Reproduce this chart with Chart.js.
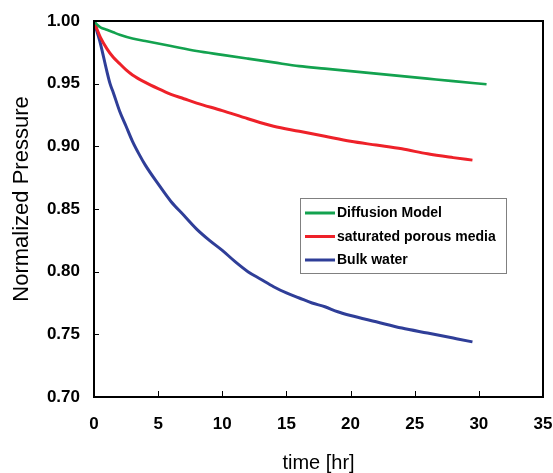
<!DOCTYPE html>
<html><head><meta charset="utf-8">
<script src="https://cdn.jsdelivr.net/npm/chart.js@4.4.0/dist/chart.umd.min.js"></script>
<style>html,body{margin:0;padding:0;background:#fff;} #wrap{width:553px;height:473px;}</style>
</head><body><div id="wrap"><canvas id="c" width="553" height="473"></canvas></div>
<script>
const seriesNames = ['Diffusion Model', 'saturated porous media', 'Bulk water'];
const seriesColors = ['#13a24f', '#ee2129', '#2f3e98'];

const diffusionTime   = [0, 0.25, 0.5, 1, 1.5, 2, 3, 4, 5, 6, 8, 10, 12, 14, 16, 18, 20, 22, 24, 26, 28, 30.6];
const diffusionValues = [1.000, 0.997, 0.995, 0.993, 0.991, 0.989, 0.986, 0.984, 0.982, 0.980, 0.976, 0.973, 0.970, 0.967, 0.964, 0.962, 0.960, 0.958, 0.956, 0.954, 0.952, 0.9495];

const porousTime   = [0, 0.25, 0.5, 1, 1.5, 2, 2.5, 3, 4, 5, 6, 7, 8, 10, 12, 14, 16, 18, 20, 22, 24, 26, 28, 29.5];
const porousValues = [1.000, 0.993, 0.987, 0.978, 0.971, 0.966, 0.961, 0.957, 0.951, 0.946, 0.9415, 0.938, 0.9345, 0.9285, 0.922, 0.916, 0.912, 0.908, 0.904, 0.901, 0.898, 0.894, 0.891, 0.889];

const bulkTime   = [0, 0.25, 0.5, 1, 1.25, 1.5, 2, 2.5, 3, 3.5, 4, 5, 6, 7, 8, 9, 10, 11, 12, 13, 14, 15, 16, 17, 18, 19, 20, 22, 24, 26, 28, 29.5];
const bulkValues = [1.000, 0.991, 0.982, 0.960, 0.950, 0.943, 0.928, 0.916, 0.904, 0.894, 0.885, 0.870, 0.856, 0.845, 0.834, 0.825, 0.817, 0.808, 0.800, 0.794, 0.788, 0.783, 0.779, 0.775, 0.772, 0.768, 0.765, 0.760, 0.755, 0.751, 0.747, 0.744];

const xTickValues = [0, 5, 10, 15, 20, 25, 30, 35];
const yTickValues = [0.70, 0.75, 0.80, 0.85, 0.90, 0.95, 1.00];

const xTitle = 'time [hr]';
const yTitle = 'Normalized Pressure';

function pairs(xs, ys) { return xs.map((x, i) => ({x: x, y: ys[i]})); }

const seriesData = [pairs(diffusionTime, diffusionValues), pairs(porousTime, porousValues), pairs(bulkTime, bulkValues)];

const framePlugin = {
  id: 'frame',
  afterDatasetsDraw(chart) {
    const ctx = chart.ctx, a = chart.chartArea;
    const xs = chart.scales.x, ys = chart.scales.y;
    const L = a.left, R = a.right, T = a.top, B = a.bottom;
    ctx.save();
    ctx.strokeStyle = '#000';
    ctx.lineWidth = 2;
    ctx.lineCap = 'square';
    ctx.beginPath();
    ctx.moveTo(L, T); ctx.lineTo(R, T);
    ctx.moveTo(R, T); ctx.lineTo(R, B);
    ctx.moveTo(L, B); ctx.lineTo(R, B);
    ctx.moveTo(L, T); ctx.lineTo(L, B);
    ctx.stroke();
    ctx.lineWidth = 1;
    ctx.lineCap = 'butt';
    ctx.beginPath();
    xTickValues.forEach(v => {
      const px = Math.round(xs.getPixelForValue(v)) + 0.5;
      ctx.moveTo(px, B); ctx.lineTo(px, B - 6);
    });
    yTickValues.forEach(v => {
      const py = Math.round(ys.getPixelForValue(v)) + 0.5;
      ctx.moveTo(L, py); ctx.lineTo(L + 5, py);
    });
    ctx.stroke();

    // y title
    ctx.fillStyle = '#000';
    ctx.font = '22px "Liberation Sans", Arial, sans-serif';
    ctx.textAlign = 'center';
    ctx.textBaseline = 'middle';
    ctx.translate(22, 199);
    ctx.rotate(-Math.PI / 2);
    ctx.fillText(yTitle, 0, 0);
    ctx.restore();

    // legend
    ctx.save();
    const lx = 300.5, ly = 198.5, lw = 206, lh = 75;
    ctx.fillStyle = '#fff';
    ctx.fillRect(lx, ly, lw, lh);
    ctx.strokeStyle = '#808080';
    ctx.lineWidth = 1;
    ctx.strokeRect(lx, ly, lw, lh);
    ctx.font = 'bold 14px "Liberation Sans", Arial, sans-serif';
    ctx.textAlign = 'left';
    ctx.textBaseline = 'middle';
    const rows = [213, 236.5, 260];
    chart.data.datasets.forEach((ds, i) => {
      ctx.strokeStyle = ds.borderColor;
      ctx.lineWidth = 3;
      ctx.beginPath();
      ctx.moveTo(305, rows[i]); ctx.lineTo(335, rows[i]);
      ctx.stroke();
      ctx.fillStyle = '#000';
      ctx.fillText(ds.label, 337, rows[i] + 0.5);
    });
    ctx.restore();
  }
};

new Chart(document.getElementById('c'), {
  type: 'line',
  data: {
    datasets: seriesData.map((d, i) => ({
      label: seriesNames[i],
      data: d,
      borderColor: seriesColors[i],
      backgroundColor: seriesColors[i],
      borderWidth: i === 0 ? 2.6 : 3,
      pointRadius: 0,
      fill: false,
      cubicInterpolationMode: 'monotone'
    }))
  },
  options: {
    responsive: false,
    animation: false,
    devicePixelRatio: 1,
    layout: { padding: { left: 0, right: 0, top: 21, bottom: 0 } },
    plugins: { legend: { display: false }, tooltip: { enabled: false } },
    scales: {
      x: {
        type: 'linear', min: 0, max: 35,
        afterBuildTicks: s => { s.ticks = xTickValues.map(v => ({value: v})); },
        afterFit: s => { s.height = 76; s.paddingLeft = 0; s.paddingRight = 10; },
        grid: { display: false, drawTicks: false },
        border: { display: false },
        ticks: { color: '#000', padding: 17, maxRotation: 0, font: { family: '"Liberation Sans", Arial, sans-serif', size: 17, weight: 'bold' }, callback: v => String(v) },
        title: { display: true, text: xTitle, color: '#000', padding: { top: 0, bottom: 0 }, font: { family: '"Liberation Sans", Arial, sans-serif', size: 20, lineHeight: 1 } }
      },
      y: {
        type: 'linear', min: 0.70, max: 1.00,
        afterBuildTicks: s => { s.ticks = yTickValues.map(v => ({value: v})); },
        afterFit: s => { s.width = 94; s.paddingTop = 0; s.paddingBottom = 0; },
        grid: { display: false, drawTicks: false },
        border: { display: false },
        ticks: { color: '#000', padding: 14, font: { family: '"Liberation Sans", Arial, sans-serif', size: 17, weight: 'bold' }, callback: v => Number(v).toFixed(2) }
      }
    }
  },
  plugins: [framePlugin]
});
</script>
</body></html>
